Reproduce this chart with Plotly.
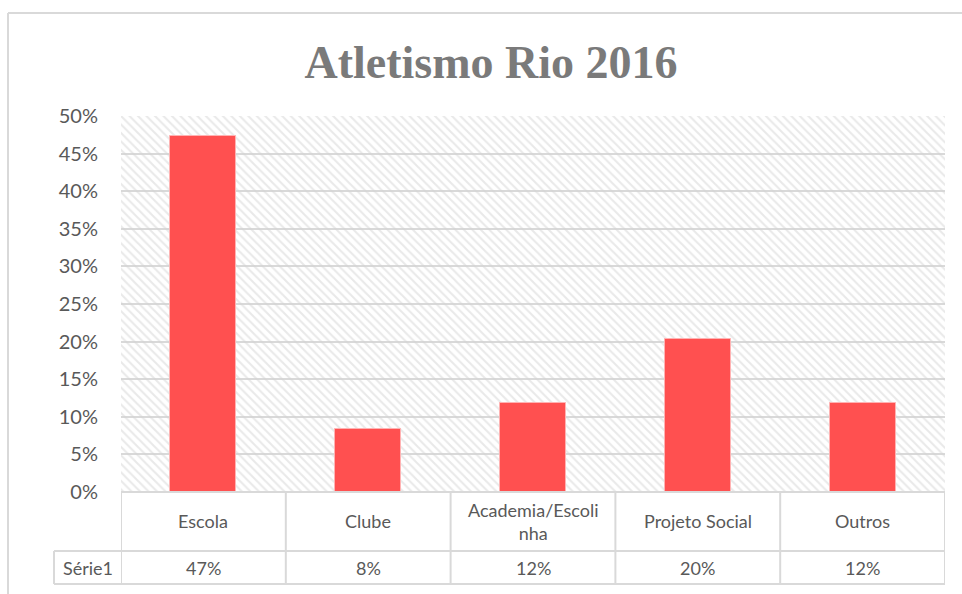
import plotly.graph_objects as go

categories = ["Escola", "Clube", "Academia/Escolinha", "Projeto Social", "Outros"]
header_labels = ["Escola", "Clube", "Academia/Escoli<br>nha", "Projeto Social", "Outros"]
values = [0.473, 0.084, 0.118, 0.203, 0.118]
series_name = "Série1"
y_max = 0.5
y_step = 0.05

W, H = 962, 594
L, R, T, B = 121, 17, 116, 102
pw, ph = W - L - R, H - T - B

def py(p):
    return (H - B - p) / ph

def px(p):
    return (p - L) / pw

grey = "#d9d9d9"
text_col = "#595959"

fig = go.Figure()
# hatched plot-area background
fig.add_trace(go.Bar(
    x=categories, y=[y_max] * len(categories), width=1,
    marker=dict(color="rgba(0,0,0,0)", line=dict(width=0),
                pattern=dict(shape="\\", fgcolor="#d4d4d4", bgcolor="rgba(0,0,0,0)",
                             size=6, solidity=0.35)),
    hoverinfo="skip", showlegend=False))
fig.add_trace(go.Bar(
    x=categories, y=values, width=0.4, name=series_name,
    marker=dict(color="#ff5050", line=dict(color="#ffb3b3", width=1)),
    showlegend=False))

shapes = []
# table borders
ytop, ymid, ybot = py(492), py(551), py(584)
for i in range(len(categories) + 1):
    shapes.append(dict(type="line", xref="x", yref="paper", x0=i - 0.5, x1=i - 0.5,
                       y0=ytop, y1=ybot, line=dict(color=grey, width=2)))
shapes.append(dict(type="line", xref="paper", yref="paper", x0=0, x1=1, y0=ytop, y1=ytop,
                   line=dict(color=grey, width=2)))
for yy in (ymid, ybot):
    shapes.append(dict(type="line", xref="paper", yref="paper", x0=px(54), x1=1, y0=yy, y1=yy,
                       line=dict(color=grey, width=2)))
shapes.append(dict(type="line", xref="paper", yref="paper", x0=px(54), x1=px(54), y0=ymid, y1=ybot,
                   line=dict(color=grey, width=2)))
# outer chart frame
shapes.append(dict(type="line", xref="paper", yref="paper", x0=px(8), x1=px(W + 5), y0=py(13), y1=py(13),
                   line=dict(color=grey, width=2)))
shapes.append(dict(type="line", xref="paper", yref="paper", x0=px(8), x1=px(8), y0=py(13), y1=py(H + 5),
                   line=dict(color=grey, width=2)))

annotations = []
for cat, lab, v in zip(categories, header_labels, values):
    annotations.append(dict(x=cat, xref="x", yref="paper", y=py(521), text=lab, showarrow=False,
                            yanchor="middle", font=dict(family="Lato", size=18, color=text_col)))
    annotations.append(dict(x=cat, xref="x", yref="paper", y=py(568), text=f"{round(v * 100)}%",
                            showarrow=False, yanchor="middle",
                            font=dict(family="Lato", size=18, color=text_col)))
annotations.append(dict(x=px(88), xref="paper", yref="paper", y=py(568), text=series_name,
                        showarrow=False, yanchor="middle", xanchor="center",
                        font=dict(family="Lato", size=18, color=text_col)))

fig.update_layout(
    width=W, height=H,
    margin=dict(l=L, r=R, t=T, b=B, pad=0),
    paper_bgcolor="white", plot_bgcolor="white",
    barmode="overlay", bargap=0,
    title=dict(text="<b>Atletismo Rio 2016</b>", x=491 / W, xanchor="center", xref="container",
               y=1 - 62 / H, yanchor="middle", yref="container",
               font=dict(family="Liberation Serif", size=46, color="#7a7a7a")),
    xaxis=dict(range=[-0.5, len(categories) - 0.5], showticklabels=False, showgrid=False,
               zeroline=False, showline=False, fixedrange=True),
    yaxis=dict(range=[0, y_max], dtick=y_step, tickformat=".0%", showgrid=True,
               gridcolor=grey, gridwidth=2, zeroline=False, showline=False,
               ticklabelstandoff=22,
               tickfont=dict(family="Lato", size=20, color=text_col)),
    shapes=shapes, annotations=annotations,
)

fig.write_html("out.html")
